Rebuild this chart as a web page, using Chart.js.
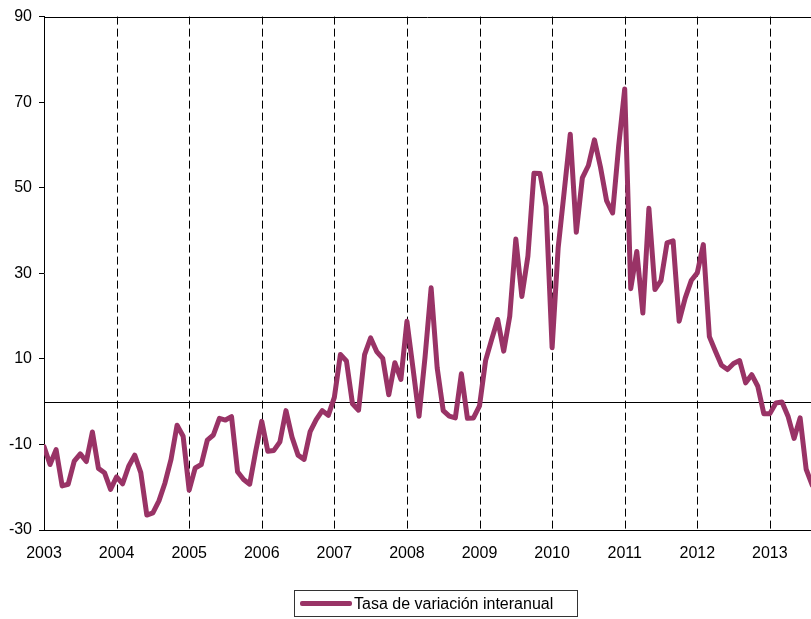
<!DOCTYPE html>
<html>
<head>
<meta charset="utf-8">
<script src="https://cdn.jsdelivr.net/npm/chart.js@4/dist/chart.umd.min.js"></script>
<style>
  html, body { margin: 0; padding: 0; background: #fff; }
  #wrap { position: relative; width: 811px; height: 619px; overflow: hidden; }
  #grafico { position: absolute; left: 0; top: 0; }
  #leyenda {
    position: absolute; left: 294px; top: 590px; width: 284px; height: 27px;
    border: 1px solid #333; box-sizing: border-box;
    font: 16px 'Liberation Sans', Arial, sans-serif; color: #000;
    display: flex; align-items: center; white-space: nowrap;
  }
  #leyenda .muestra { display: inline-block; width: 52px; height: 5px; background: #993366; margin-left: 5px; margin-right: 2px; border-radius: 2px; }
</style>
</head>
<body>
<div id="wrap">
  <canvas id="grafico" width="811" height="619"></canvas>
  <div id="leyenda"><span class="muestra"></span>Tasa de variación interanual</div>
</div>
<script>
// años del eje X (una marca cada 12 meses)
var anios = [2003, 2004, 2005, 2006, 2007, 2008, 2009, 2010, 2011, 2012, 2013];

// tasa de variación interanual, mensual (ene-dic)
var tasa2003 = [-10.5, -14.7, -11.2, -19.7, -19.3, -13.9, -12.2, -14.0, -7.1, -15.6, -16.6, -20.5];
var tasa2004 = [-17.6, -19.2, -15.1, -12.5, -16.6, -26.5, -26.0, -23.2, -19.0, -13.5, -5.5, -8.1];
var tasa2005 = [-20.7, -15.5, -14.7, -9.0, -7.8, -3.9, -4.3, -3.5, -16.4, -18.2, -19.3, -11.6];
var tasa2006 = [-4.6, -11.6, -11.4, -9.4, -2.1, -8.3, -12.5, -13.5, -7.0, -4.2, -2.1, -3.2];
var tasa2007 = [1.0, 11.0, 9.5, -0.5, -2.0, 11.0, 14.9, 11.7, 10.1, 1.6, 9.1, 5.2];
var tasa2008 = [18.8, 7.8, -3.4, 10.5, 26.6, 7.9, -2.1, -3.4, -3.8, 6.5, -3.9, -3.8];
var tasa2009 = [-1.0, 9.6, 14.5, 19.2, 11.8, 20.0, 38.0, 24.6, 34.0, 53.4, 53.3, 45.6];
var tasa2010 = [12.6, 35.9, 49.1, 62.5, 39.6, 52.3, 55.2, 61.2, 54.8, 47.0, 44.1, 59.7];
var tasa2011 = [73.1, 26.4, 35.1, 20.7, 45.2, 26.2, 28.3, 37.1, 37.6, 18.8, 24.2, 28.3];
var tasa2012 = [30.1, 36.7, 15.2, 11.8, 8.5, 7.5, 8.9, 9.6, 4.4, 6.3, 3.6, -2.8];
var tasa2013 = [-2.8, -0.3, -0.1, -3.4, -8.6, -3.8, -15.8, -19.5];

var serie = [].concat(tasa2003, tasa2004, tasa2005, tasa2006, tasa2007, tasa2008,
  tasa2009, tasa2010, tasa2011, tasa2012, tasa2013);
var puntos = serie.map(function (v, i) { return { x: i, y: v }; });

var fuente = { family: "'Liberation Sans', Arial, sans-serif", size: 16 };

// líneas discontinuas de cada año, línea del cero y borde superior
var guias = {
  id: 'guias',
  beforeDatasetsDraw: function (chart) {
    var ctx = chart.ctx, a = chart.chartArea;
    var x = chart.scales.x, y = chart.scales.y;
    ctx.save();
    ctx.lineWidth = 1;
    ctx.strokeStyle = '#000';
    ctx.setLineDash([8, 4]);
    for (var i = 1; i < anios.length; i++) {
      var px = Math.round(x.getPixelForValue(i * 12)) + 0.5;
      ctx.beginPath();
      ctx.moveTo(px, a.top);
      ctx.lineTo(px, a.bottom);
      ctx.stroke();
    }
    ctx.setLineDash([]);
    [0, 90].forEach(function (v) {
      var py = Math.round(y.getPixelForValue(v)) + 0.5;
      ctx.beginPath();
      ctx.moveTo(a.left, py);
      ctx.lineTo(a.right, py);
      ctx.stroke();
    });
    ctx.restore();
  }
};

new Chart(document.getElementById('grafico'), {
  type: 'line',
  data: {
    datasets: [{
      label: 'Tasa de variación interanual',
      data: puntos,
      borderColor: '#993366',
      borderWidth: 5,
      borderJoinStyle: 'round',
      borderCapStyle: 'round',
      pointRadius: 0,
      tension: 0
    }]
  },
  options: {
    responsive: false,
    animation: false,
    layout: { padding: { top: 15, right: 0, bottom: 59, left: 0 } },
    plugins: { legend: { display: false }, tooltip: { enabled: false } },
    scales: {
      x: {
        type: 'linear',
        min: 0,
        max: 126.8,
        afterBuildTicks: function (s) {
          s.ticks = anios.map(function (a, i) { return { value: i * 12 }; });
        },
        afterFit: function (s) { s.height = 30; },
        ticks: {
          font: fuente, color: '#000', padding: 14, maxRotation: 0, autoSkip: false,
          callback: function (v) { return String(anios[0] + v / 12); }
        },
        grid: { display: false, drawTicks: false },
        border: { display: true, color: '#000', width: 1 }
      },
      y: {
        min: -30,
        max: 90,
        afterBuildTicks: function (s) {
          s.ticks = [-30, -10, 10, 30, 50, 70, 90].map(function (v) { return { value: v }; });
        },
        afterFit: function (s) { s.width = 44; },
        ticks: { font: fuente, color: '#000', padding: 7 },
        grid: { drawOnChartArea: false, drawTicks: true, tickLength: 5, tickColor: '#000' },
        border: { display: true, color: '#000', width: 1 }
      }
    }
  },
  plugins: [guias]
});
</script>
</body>
</html>
